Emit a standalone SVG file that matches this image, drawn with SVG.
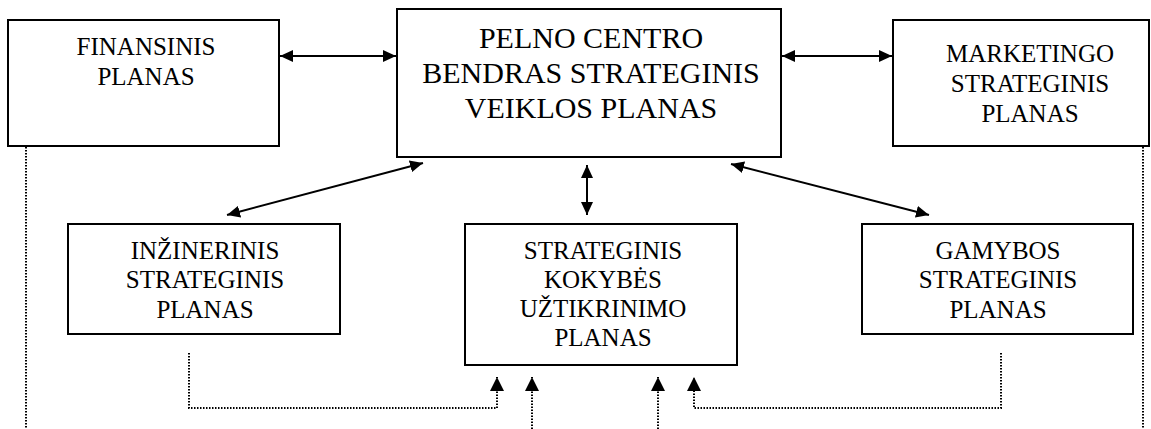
<svg xmlns="http://www.w3.org/2000/svg" width="1151" height="429" viewBox="0 0 1151 429">
  <style>
    .box { fill: #ffffff; stroke: #000000; stroke-width: 2; }
    .lbl { font-family: 'Liberation Serif', 'Times New Roman', Times, serif; font-size: 25px; fill: #000000; text-anchor: middle; }
    .big { font-size: 30px; }
    .solid { fill: none; stroke: #000000; stroke-width: 2; }
    .dot { fill: none; stroke: #000000; stroke-width: 2; stroke-dasharray: 1.5 1.5; }
  </style>
  <defs>
    <marker id="head" viewBox="0 0 13 12" markerWidth="13" markerHeight="12" refX="13" refY="6" orient="auto-start-reverse" markerUnits="userSpaceOnUse">
      <path d="M0,0 L13,6 L0,12 z" fill="#000000"/>
    </marker>
    <marker id="headDot" viewBox="0 0 14 14" markerWidth="14" markerHeight="14" refX="14" refY="7" orient="auto" markerUnits="userSpaceOnUse">
      <path d="M0,0 L14,7 L0,14 z" fill="#000000"/>
    </marker>
  </defs>

  <g id="finansinis">
    <rect class="box" x="8" y="20" width="271" height="126"/>
    <text class="lbl" x="146" y="55">FINANSINIS</text>
    <text class="lbl" x="146" y="85">PLANAS</text>
  </g>

  <g id="pelno-centro">
    <rect class="box" x="397" y="9" width="384" height="148"/>
    <text class="lbl big" x="591" y="48">PELNO CENTRO</text>
    <text class="lbl big" x="591" y="83">BENDRAS STRATEGINIS</text>
    <text class="lbl big" x="591" y="118">VEIKLOS PLANAS</text>
  </g>

  <g id="marketingo">
    <rect class="box" x="893" y="20" width="256" height="126"/>
    <text class="lbl" x="1030" y="62">MARKETINGO</text>
    <text class="lbl" x="1030" y="92">STRATEGINIS</text>
    <text class="lbl" x="1030" y="122">PLANAS</text>
  </g>

  <g id="inzinerinis">
    <rect class="box" x="68" y="224" width="272" height="110"/>
    <text class="lbl" x="205" y="259">INŽINERINIS</text>
    <text class="lbl" x="205" y="288">STRATEGINIS</text>
    <text class="lbl" x="205" y="318">PLANAS</text>
  </g>

  <g id="kokybes">
    <rect class="box" x="465" y="224" width="272" height="141"/>
    <text class="lbl" x="603" y="259">STRATEGINIS</text>
    <text class="lbl" x="603" y="288">KOKYBĖS</text>
    <text class="lbl" x="603" y="317">UŽTIKRINIMO</text>
    <text class="lbl" x="603" y="346">PLANAS</text>
  </g>

  <g id="gamybos">
    <rect class="box" x="862" y="224" width="271" height="110"/>
    <text class="lbl" x="998" y="259">GAMYBOS</text>
    <text class="lbl" x="998" y="288">STRATEGINIS</text>
    <text class="lbl" x="998" y="318">PLANAS</text>
  </g>

  <g id="connectors">
    <!-- two-way links to the central plan -->
    <line class="solid" x1="280" y1="56" x2="396" y2="56" marker-start="url(#head)" marker-end="url(#head)"/>
    <line class="solid" x1="782" y1="56" x2="892" y2="56" marker-start="url(#head)" marker-end="url(#head)"/>
    <line class="solid" x1="587" y1="165" x2="587" y2="215" marker-start="url(#head)" marker-end="url(#head)"/>
    <line class="solid" x1="423" y1="163" x2="227" y2="215" marker-start="url(#head)" marker-end="url(#head)"/>
    <line class="solid" x1="731" y1="164" x2="929" y2="215" marker-start="url(#head)" marker-end="url(#head)"/>

    <!-- dotted feeds into the quality plan -->
    <polyline class="dot" points="189,353 189,408 497,408 497,377" marker-end="url(#headDot)"/>
    <line class="dot" x1="532" y1="429" x2="532" y2="377" marker-end="url(#headDot)"/>
    <line class="dot" x1="658" y1="429" x2="658" y2="377" marker-end="url(#headDot)"/>
    <polyline class="dot" points="1001,353 1001,408 694,408 694,377" marker-end="url(#headDot)"/>

    <!-- dotted side lines -->
    <line class="dot" x1="26" y1="147" x2="26" y2="429"/>
    <line class="dot" x1="1143" y1="147" x2="1143" y2="429"/>
  </g>
</svg>
